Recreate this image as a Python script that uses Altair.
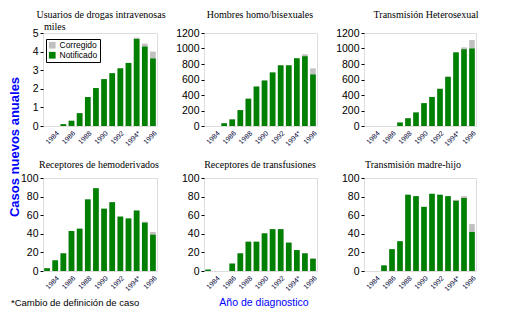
import altair as alt
import pandas as pd

years = list(range(1983, 1997))

# Usuarios de drogas intravenosas (miles)
udi_notif = [0, 0, 0.1, 0.28, 0.69, 1.56, 2.04, 2.52, 2.84, 3.1, 3.39, 4.68, 4.27, 3.63]
udi_corr = [0, 0, 0.1, 0.28, 0.69, 1.56, 2.04, 2.52, 2.84, 3.1, 3.39, 4.75, 4.43, 4.0]
# Hombres homo/bisexuales
homo_notif = [0, 0, 35, 85, 205, 352, 509, 587, 691, 783, 783, 874, 900, 665]
homo_corr = [0, 0, 35, 85, 205, 352, 509, 587, 691, 783, 783, 874, 926, 743]
# Transmision heterosexual
het_notif = [0, 0, 0, 0, 45, 100, 175, 295, 375, 480, 635, 950, 990, 1000]
het_corr = [0, 0, 0, 0, 45, 100, 175, 295, 375, 480, 635, 950, 1015, 1110]
# Receptores de hemoderivados
hemo_notif = [3, 11.5, 19, 43, 45.5, 77, 89, 67, 74, 58.5, 56.5, 65, 52, 39]
hemo_corr = [3, 11.5, 19, 43, 45.5, 77, 89, 67, 74, 58.5, 56.5, 65, 53, 42]
# Receptores de transfusiones
trans_notif = [1.5, 0, 0, 8, 19, 31.5, 31.5, 40.5, 45, 45, 30.5, 22.5, 19, 13]
trans_corr = [1.5, 0, 0, 8, 19, 31.5, 31.5, 40.5, 45, 45, 30.5, 22.5, 19, 14]
# Transmision madre-hijo
mh_notif = [0, 0, 6, 23.5, 32, 82, 80.5, 69, 83, 82, 80.5, 75.5, 78.5, 42]
mh_corr = [0, 0, 6, 23.5, 32, 82, 80.5, 69, 83, 82, 80.5, 76.5, 80.5, 50.5]

series_names = ["Corregido", "Notificado"]
series_colors = ["#C0C0C0", "#008000"]

SERIF = "Liberation Serif, Times New Roman, serif"
SANS = "Liberation Sans, Arial, sans-serif"
NARROW = "Liberation Sans Narrow, Arial Narrow, Liberation Sans, sans-serif"

LABEL_EXPR = ("datum.value % 2 == 0 ? (datum.value == 1994 ? '1994*' : datum.label) : ''")


def note(text, x, y, color, size, align, font, angle=0, weight="normal"):
    return alt.Chart(pd.DataFrame({"t": [text]})).mark_text(
        align=align, baseline="middle", font=font, fontSize=size, color=color,
        angle=angle, fontWeight=weight
    ).encode(text="t:N", x=alt.value(x), y=alt.value(y))


def panel(title, title_x, title_y, notif, corr, ymax, ystep, width, height,
          legend=False, extras=()):
    df = pd.DataFrame({"Año": years, "Notificado": notif, "Corregido": corr})
    base = alt.Chart(df)
    x = alt.X("Año:O",
              scale=alt.Scale(paddingInner=0.3, paddingOuter=0.15),
              axis=alt.Axis(title=None, labelAngle=-45, labelExpr=LABEL_EXPR,
                            ticks=False, domain=False, labelFontSize=7,
                            labelColor="#000033", labelPadding=3,
                            labelFont=SANS, labelOverlap=False))
    yaxis = alt.Axis(values=list(range(0, ymax + 1, ystep)), grid=False,
                     tickSize=3, domain=False, labelFontSize=10.5,
                     labelFont=SANS, labelColor="black", tickColor="black",
                     labelPadding=2, format="d", labelOverlap=False, title=None)
    yscale = alt.Scale(domain=[0, ymax], nice=False)
    cscale = alt.Scale(domain=series_names, range=series_colors)
    if legend:
        leg = alt.Legend(title=None, orient="none", legendX=3, legendY=6,
                         fillColor="white", strokeColor="black", padding=2,
                         symbolType="square", symbolSize=45, symbolStrokeWidth=0,
                         labelFontSize=8.5, labelFont=SANS, rowPadding=1,
                         labelOffset=3, labelColor="black")
    else:
        leg = None
    gray = base.transform_calculate(tipo="'Corregido'").mark_bar().encode(
        x=x,
        y=alt.Y("Corregido:Q", scale=yscale, axis=yaxis),
        color=alt.Color("tipo:N", scale=cscale, legend=leg),
    )
    green = base.transform_calculate(tipo="'Notificado'").mark_bar().encode(
        x=x,
        y=alt.Y("Notificado:Q", scale=yscale, axis=yaxis),
        color=alt.Color("tipo:N", scale=cscale, legend=leg),
    )
    ttl = note(title, title_x, title_y, "black", 10, "center", SERIF)
    return alt.layer(gray, green, ttl, *extras).properties(width=width, height=height)


W1, W2, W3 = 114, 113, 112
H = 93

ytitle = note("Casos nuevos anuales", -28, 114, "#0000FF", 13, "center", NARROW,
              angle=270, weight="bold")
miles = note("miles", 1, -6, "black", 10, "left", SERIF)
footnote = note("*Cambio de definición de caso", -32, 125, "black", 9.5, "left", SANS)
xtitle = note("Año de diagnostico", 60, 125, "#0000FF", 10.5, "center", SANS)

p1 = panel("Usuarios de drogas intravenosas", 58, -18, udi_notif, udi_corr, 5, 1,
           W1, H, legend=True, extras=(ytitle, miles))
p2 = panel("Hombres homo/bisexuales", 56, -18, homo_notif, homo_corr, 1200, 200, W2, H)
p3 = panel("Transmisión Heterosexual", 62, -18, het_notif, het_corr, 1200, 200, W3, H)
p4 = panel("Receptores de hemoderivados", 56, -13, hemo_notif, hemo_corr, 100, 20,
           W1, H, extras=(footnote,))
p5 = panel("Receptores de transfusiones", 56, -13, trans_notif, trans_corr, 100, 20,
           W2, H, extras=(xtitle,))
p6 = panel("Transmisión madre-hijo", 49, -13, mh_notif, mh_corr, 100, 20, W3, H)

chart = alt.concat(
    p1, p2, p3, p4, p5, p6,
    columns=3,
    spacing={"row": 52, "column": 47},
    bounds="flush",
).properties(
    padding={"left": 0, "top": 1, "right": 5, "bottom": 5},
).configure_view(
    stroke="black", strokeWidth=1
).configure(background="white")

chart.save("out.html", embed_options={"renderer": "svg", "actions": False})
